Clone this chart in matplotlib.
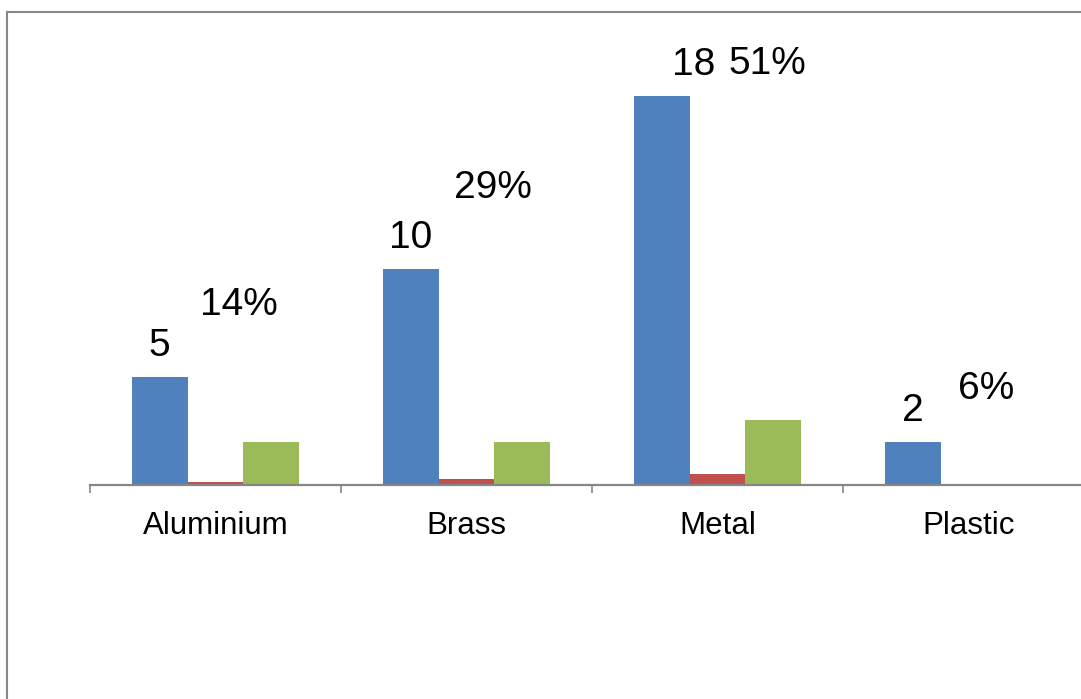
import matplotlib
matplotlib.use('Agg')
import matplotlib.pyplot as plt
import numpy as np
from matplotlib.patches import Rectangle

categories = ['Aluminium', 'Brass', 'Metal', 'Plastic']
counts = [5, 10, 18, 2]
shares = [0.14, 0.29, 0.51, 0.06]
green_vals = [2, 2, 3, 0]
share_labels = ['14%', '29%', '51%', '6%']

# manual label nudges (px): counts relative to blue bar top,
# % labels relative to red bar centre / blue bar top
count_dx = [0, 0, 32, 0]
share_dx = [23, 26, 50, 18]
share_dy = [62, 71, 22, 43]

W, H = 1081, 699
plt.rcParams['font.family'] = ['Liberation Sans', 'DejaVu Sans']

fig = plt.figure(figsize=(W / 100, H / 100), dpi=100)
ax = fig.add_axes([90 / W, (H - 485) / H, 1004 / W, 432 / H])

x = np.arange(len(categories))
w = 1 / 4.5
ax.bar(x - w, counts, w, color='#4F81BD')
ax.bar(x, shares, w, color='#C0504D')
ax.bar(x + w, green_vals, w, color='#9BBB59')

ax.set_xlim(-0.5, 3.5)
ax.set_ylim(0, 20)

for s in ['top', 'right', 'left']:
    ax.spines[s].set_visible(False)
ax.spines['bottom'].set_color('#868686')
ax.spines['bottom'].set_linewidth(1.6)
ax.set_yticks([])

ax.set_xticks(np.arange(-0.5, 4, 1))
ax.set_xticklabels([])
ax.tick_params(axis='x', which='major', direction='out', length=6, width=1.2, color='#868686')
ax.set_xticks(x, minor=True)
ax.set_xticklabels(categories, minor=True, fontsize=22.5)
ax.tick_params(axis='x', which='minor', length=0, pad=18.5)

for i in range(len(categories)):
    ax.annotate(str(counts[i]), xy=(x[i] - w, counts[i]),
                xytext=(count_dx[i] * 0.72, 21 * 0.72),
                textcoords='offset points', ha='center', va='baseline', fontsize=28)
    ax.annotate(share_labels[i], xy=(x[i], counts[i]),
                xytext=(share_dx[i] * 0.72, share_dy[i] * 0.72),
                textcoords='offset points', ha='center', va='baseline', fontsize=28)

# outer chart border (cut off by the image at right and bottom)
fig.patches.append(Rectangle((7.5 / W, -0.1), 2, 1 - 11.5 / H + 0.1,
                             transform=fig.transFigure, fill=False,
                             edgecolor='#888888', linewidth=1.5))

fig.savefig('out.png', dpi=100)
